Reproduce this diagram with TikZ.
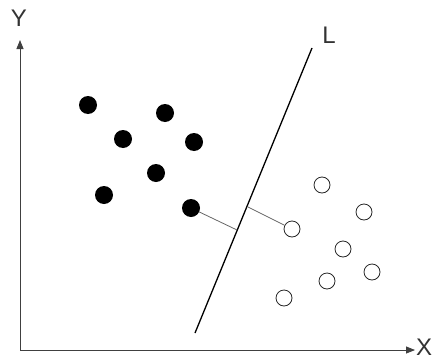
\documentclass[tikz,border=0pt]{standalone}
\usepackage{fontspec}
\setmainfont{Liberation Sans}
\usetikzlibrary{arrows.meta}

\begin{document}
\begin{tikzpicture}[
    x=1pt, y=-1pt,
    axis/.style={-{Triangle[length=9pt, width=7pt]}, draw=black!75, line width=0.8pt},
    lbl/.style={font=\fontsize{24}{24}\selectfont, text=black!80, inner sep=0pt},
    full/.style={circle, fill=black, inner sep=0pt, minimum size=18pt},
    hollow/.style={circle, draw=black!85, line width=0.8pt, fill=white, inner sep=0pt, minimum size=16pt},
    dist/.style={draw=black!60, line width=0.8pt}
]
\useasboundingbox (0,0) rectangle (435,361);
% axes
\coordinate (o) at (20,350);
\coordinate (xend) at (415,350);
\coordinate (yend) at (20,40);
\draw[axis] (o) -- (xend);
\draw[axis] (o) -- (yend);
\node[lbl] (xlbl) at (424,347) {X};
\node[lbl] (ylbl) at (19,18) {Y};
% separating line
\coordinate (lbot) at (195,333);
\coordinate (ltop) at (312,48);
\draw[line width=1.3pt] (lbot) -- (ltop);
\node[lbl] (llbl) at (329,35) {L};
% class one
\node[full] (a1) at (88,105) {};
\node[full] (a2) at (165,113) {};
\node[full] (a3) at (123,139) {};
\node[full] (a4) at (194,142) {};
\node[full] (a5) at (156,173) {};
\node[full] (a6) at (104,195) {};
\node[full] (a7) at (191,208) {};
% class two
\node[hollow] (b1) at (322,185) {};
\node[hollow] (b2) at (364,212) {};
\node[hollow] (b3) at (292,229) {};
\node[hollow] (b4) at (343,249) {};
\node[hollow] (b5) at (372,272) {};
\node[hollow] (b6) at (327,281) {};
\node[hollow] (b7) at (284,298) {};
% distances to L
\coordinate (pa) at (237,230);
\coordinate (pb) at (248,207);
\draw[dist] (a7) -- (pa);
\draw[dist] (b3) -- (pb);
\end{tikzpicture}
\end{document}
